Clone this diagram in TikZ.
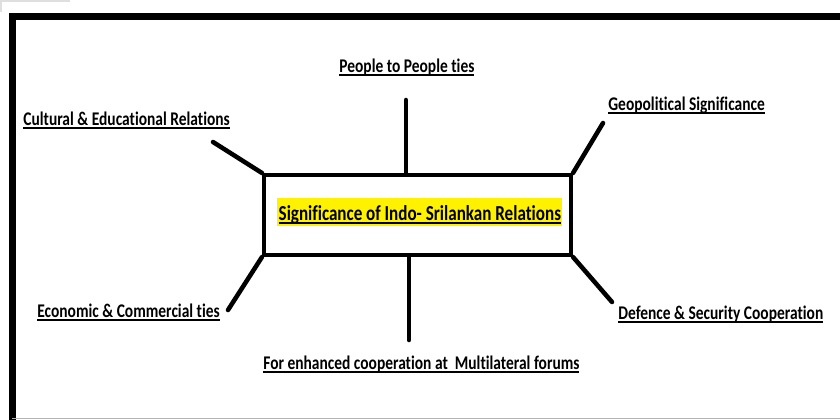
\documentclass[tikz,border=0pt]{standalone}
\usepackage{fontspec}
\setmainfont{Carlito}[FakeStretch=0.8,Ligatures=NoCommon]

% underlined label text
\newcommand\ulbl[1]{\sbox0{#1}\rlap{\usebox0}\rule[-2.8pt]{\wd0}{1.4pt}}

\tikzset{every picture/.style={line width=0.55pt},
  lbl/.style={anchor=base west,inner sep=0pt,font=\bfseries\fontsize{14.5}{16}\selectfont},
  spoke/.style={line width=3.4pt,line cap=round}}

\begin{document}
\begin{tikzpicture}[x=0.75pt,y=0.75pt,yscale=-1,xscale=1]
            \useasboundingbox (0,0) rectangle (840,419);
            % frame
            \draw [gray!25,line width=1.2pt] (0,1) -- (70,1) (1,0) -- (1,12) ;
            \draw [line width=5.25pt] (12,440) -- (12,16) -- (860,16) ;
            \draw [gray!60,line width=0.75pt] (12,418.6) -- (840,418.6) ;
            % central box
            \node (sig) [draw,line width=3pt,minimum width=230.25pt,minimum height=60pt] at (417.5,215) {};
            \node (title) [lbl,font=\bfseries\fontsize{16}{18}\selectfont,fill=yellow,inner xsep=1pt,text height=16.5pt,text depth=4.5pt] at (277,220) {\ulbl{Significance of Indo- Srilankan Relations}};
            % labels
            \node (cul) [lbl] at (23,125) {\ulbl{Cultural \& Educational Relations}};
            \node (pp) [lbl] at (339,72) {\ulbl{People to People ties}};
            \node (geo) [lbl] at (608,110) {\ulbl{Geopolitical Significance}};
            \node (eco) [lbl] at (37,317) {\ulbl{Economic \& Commercial ties}};
            \node (mf) [lbl] at (263,369) {\ulbl{For enhanced cooperation at\ \ Multilateral forums}};
            \node (def) [lbl] at (618,319) {\ulbl{Defence \& Security Cooperation}};
            % spokes
            \coordinate (cul-e) at (213,142);
            \coordinate (pp-e) at (406,100);
            \coordinate (geo-e) at (603,123);
            \coordinate (eco-e) at (228,310);
            \coordinate (mf-e) at (409,340);
            \coordinate (def-e) at (612,302);
            \draw [spoke] (cul-e) -- (sig.north west) ;
            \draw [spoke] (pp-e) -- (pp-e |- sig.north) ;
            \draw [spoke] (geo-e) -- (sig.north east) ;
            \draw [spoke] (eco-e) -- (sig.south west) ;
            \draw [spoke] (mf-e) -- (mf-e |- sig.south) ;
            \draw [spoke] (def-e) -- (sig.south east) ;
        \end{tikzpicture}
\end{document}
